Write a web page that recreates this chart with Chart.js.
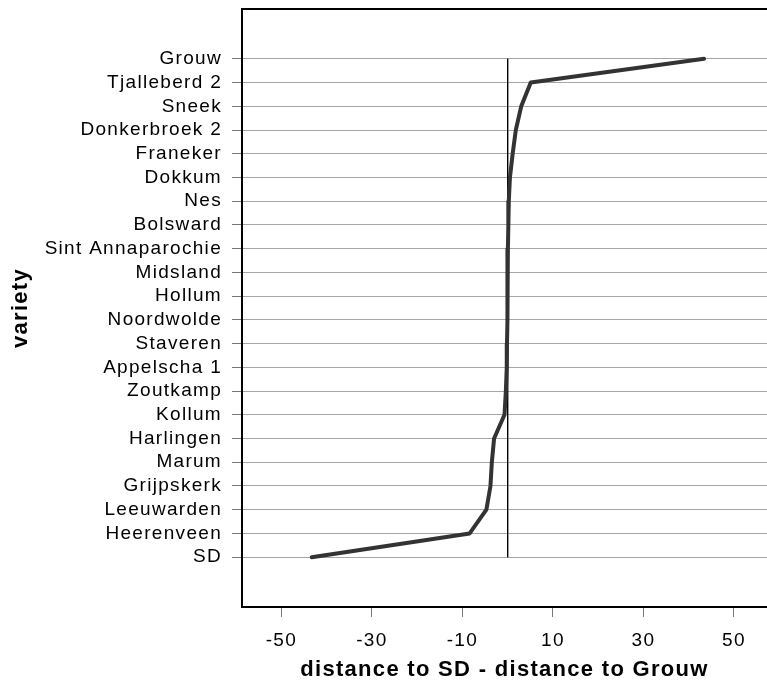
<!DOCTYPE html>
<html>
<head>
<meta charset="utf-8">
<script src="https://cdn.jsdelivr.net/npm/chart.js@4.4.1/dist/chart.umd.min.js"></script>
<style>
  html, body { margin: 0; padding: 0; background: #fff; }
  canvas { display: block; }
</style>
</head>
<body>
<canvas id="chart" width="767" height="688"></canvas>
<script>
// varieties from top to bottom
const varieties = ['Grouw', 'Tjalleberd 2', 'Sneek', 'Donkerbroek 2', 'Franeker', 'Dokkum', 'Nes',
    'Bolsward', 'Sint Annaparochie', 'Midsland', 'Hollum', 'Noordwolde', 'Staveren', 'Appelscha 1',
    'Zoutkamp', 'Kollum', 'Harlingen', 'Marum', 'Grijpskerk', 'Leeuwarden', 'Heerenveen', 'SD'];
const distanceDiff = [43.4, 5.1, 3.0, 1.8, 1.1, 0.5, 0.25, 0.15, 0.05, 0, -0.05, -0.1, -0.15, -0.2,
    -0.4, -0.7, -3.0, -3.5, -3.8, -4.7, -8.4, -43.3];
const xTicks = [-50, -30, -10, 10, 30, 50];
const zeroLine = [0, 0]; // x of the reference line at the top and bottom variety

const fontFamily = '"Liberation Sans", Arial, sans-serif';
const n = varieties.length;

// y index: bottom variety sits at 0
const yOf = (i) => n - 1 - i;

const linePoints = distanceDiff.map((v, i) => ({ x: v, y: yOf(i) }));
const zeroPoints = [{ x: zeroLine[0], y: yOf(0) }, { x: zeroLine[1], y: yOf(n - 1) }];

// wider glyph spacing like the original renderer
const spacingPlugin = {
    id: 'spacing',
    beforeLayout(chart) { chart.ctx.letterSpacing = '1.3px'; },
    beforeDraw(chart) { chart.ctx.letterSpacing = '1.3px'; }
};

// top edge of the plot frame
const framePlugin = {
    id: 'frame',
    afterDraw(chart) {
        const { ctx, chartArea } = chart;
        ctx.save();
        ctx.strokeStyle = '#000';
        ctx.lineWidth = 2;
        ctx.beginPath();
        ctx.moveTo(chartArea.left, chartArea.top);
        ctx.lineTo(chartArea.right, chartArea.top);
        ctx.stroke();
        ctx.restore();
    }
};

new Chart(document.getElementById('chart'), {
    type: 'scatter',
    data: {
        datasets: [
            {
                data: linePoints,
                showLine: true,
                borderColor: '#333333',
                borderWidth: 4,
                borderJoinStyle: 'round',
                borderCapStyle: 'round',
                pointRadius: 0,
                tension: 0
            },
            {
                data: zeroPoints,
                showLine: true,
                borderColor: '#000',
                borderWidth: 1,
                pointRadius: 0
            }
        ]
    },
    options: {
        responsive: false,
        animation: false,
        devicePixelRatio: 1,
        layout: { padding: { top: 9, right: 0, left: 0, bottom: 0 } },
        plugins: {
            legend: { display: false },
            tooltip: { enabled: false }
        },
        scales: {
            x: {
                type: 'linear',
                min: -58.7,
                max: 57.3,
                afterBuildTicks: (scale) => { scale.ticks = xTicks.map(v => ({ value: v })); },
                afterFit: (scale) => {
                    scale.height = 81;
                    scale.paddingLeft = 0;
                    scale.paddingRight = 0;
                },
                border: { display: true, color: '#000', width: 2 },
                grid: { drawOnChartArea: false, drawTicks: true, tickLength: 10, tickColor: '#777', tickWidth: 1 },
                ticks: {
                    color: '#000',
                    padding: 12,
                    maxRotation: 0,
                    font: { family: fontFamily, size: 19 }
                },
                title: {
                    display: true,
                    text: 'distance to SD - distance to Grouw',
                    color: '#000',
                    padding: { top: 0, bottom: 5 },
                    font: { family: fontFamily, size: 22, weight: 'bold' }
                }
            },
            y: {
                type: 'linear',
                min: -2.1,
                max: n - 1 + 2.1,
                afterBuildTicks: (scale) => { scale.ticks = varieties.map((v, i) => ({ value: yOf(i) })); },
                afterFit: (scale) => {
                    scale.width = 242;
                    scale.paddingTop = 0;
                    scale.paddingBottom = 0;
                },
                border: { display: true, color: '#000', width: 2 },
                grid: { color: '#a6a6a6', lineWidth: 1, drawTicks: true, tickLength: 10, tickColor: '#777', tickWidth: 1 },
                ticks: {
                    color: '#000',
                    padding: 10,
                    font: { family: fontFamily, size: 19 },
                    callback: (value) => varieties[n - 1 - Math.round(value)]
                },
                title: {
                    display: true,
                    text: 'variety',
                    color: '#000',
                    padding: { top: 8, bottom: 0 },
                    font: { family: fontFamily, size: 22, weight: 'bold' }
                }
            }
        }
    },
    plugins: [spacingPlugin, framePlugin]
});
</script>
</body>
</html>
